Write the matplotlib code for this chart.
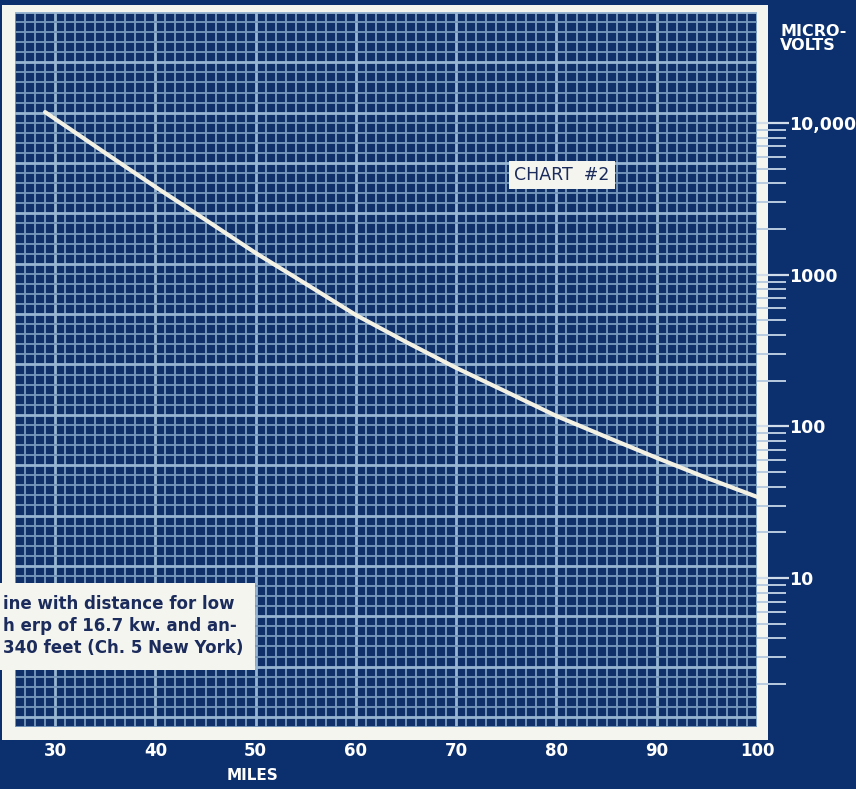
import matplotlib
matplotlib.use("Agg")
import matplotlib.pyplot as plt
from matplotlib.patches import Rectangle
from matplotlib.ticker import FixedLocator, FixedFormatter, MultipleLocator, NullFormatter

# field strength vs distance
miles = [29, 35, 40, 45, 50, 55, 60, 65, 70, 75, 80, 85, 90, 95, 100]
microvolts = [11800, 6340, 3790, 2300, 1390, 870, 542, 360, 243, 169, 117, 85, 62, 45.7, 34.3]

x_ticks = [30, 40, 50, 60, 70, 80, 90, 100]
y_major = [1, 10, 100, 1000, 10000]
y_labels = ['', '10', '100', '1000', '10,000']
y_minor = [m * d for d in [1, 10, 100, 1000] for m in range(2, 10)]

caption = ["ine with distance for low",
           "h erp of 16.7 kw. and an-",
           "340 feet (Ch. 5 New York)"]

bg = '#0c2f6e'
cell = '#10306a'
paper = '#f4f5ee'
ink = '#1b2b5c'

W, H = 856, 789
fig = plt.figure(figsize=(W / 100, H / 100), dpi=100, facecolor=bg)

def fx(px):
    return px / W

def fy(py):
    return 1 - py / H

# white frame around the grid paper
fig.patches.append(Rectangle((fx(2), fy(740)), fx(766), 735 / H, transform=fig.transFigure,
                             facecolor=paper, edgecolor='none', zorder=-1))

# grid paper axes (linear both ways)
ax = fig.add_axes([fx(15), fy(727), fx(742), 715 / H])
ax.set_facecolor(cell)
ax.set_xlim(26.0, 100.0)
ax.set_ylim(-1, 70)
ax.xaxis.set_major_locator(FixedLocator(x_ticks))
ax.xaxis.set_minor_locator(MultipleLocator(1))
ax.yaxis.set_major_locator(MultipleLocator(5))
ax.yaxis.set_minor_locator(MultipleLocator(1))
ax.grid(which='minor', color='#7597bb', lw=1.35)
ax.grid(which='major', color='#98b6d2', lw=2.0)
ax.set_axisbelow(True)
ax.tick_params(axis='both', which='both', length=0)
ax.tick_params(axis='x', which='major', pad=11, labelcolor='white', labelsize=12)
for t in ax.get_xticklabels():
    t.set_fontweight('bold')
ax.set_yticklabels([])
for s in ax.spines.values():
    s.set_visible(False)

# log scale for the curve, ticks on the right
axl = ax.twinx()
axl.set_yscale('log')
axl.set_ylim(1.043, 53900)
axl.plot(miles, microvolts, color='#f3f1e4', lw=3, solid_capstyle='round')
axl.yaxis.set_major_locator(FixedLocator(y_major))
axl.yaxis.set_major_formatter(FixedFormatter(y_labels))
axl.yaxis.set_minor_locator(FixedLocator(y_minor))
axl.yaxis.set_minor_formatter(NullFormatter())
axl.tick_params(axis='y', which='major', direction='out', length=23, width=1.6,
                color='#d0dcea', pad=0, labelcolor='white', labelsize=12.5)
axl.tick_params(axis='y', which='minor', direction='out', length=21, width=1.4,
                color='#b8cbe0')
for t in axl.get_yticklabels():
    t.set_fontweight('bold')
for s in axl.spines.values():
    s.set_visible(False)

fig.text(fx(780), fy(24), "MICRO-\nVOLTS", color='white', fontsize=11.5,
         fontweight='bold', ha='left', va='top', linespacing=0.95)
fig.text(fx(253), fy(776), "MILES", color='white', fontsize=11,
         fontweight='bold', ha='center', va='center')

fig.text(fx(562), fy(175), "CHART  #2", color=ink, fontsize=12.5, ha='center', va='center',
         zorder=6, bbox=dict(boxstyle='square,pad=0.3', facecolor=paper, edgecolor='none'))

# caption box cut off by the left edge
fig.patches.append(Rectangle((0, fy(670)), fx(255), 87 / H, transform=fig.transFigure,
                             facecolor=paper, edgecolor='none', zorder=5))
for i, line in enumerate(caption):
    fig.text(fx(3), fy(604 + 22 * i), line, color=ink, fontsize=12,
             fontweight='bold', ha='left', va='center', zorder=6)

fig.savefig('out.png', dpi=100, facecolor=bg)
